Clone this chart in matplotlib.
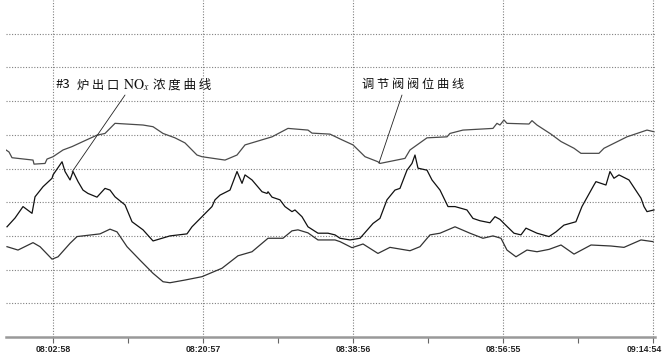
import matplotlib
matplotlib.use('Agg')
import matplotlib.pyplot as plt
import matplotlib.transforms as mtransforms
from matplotlib.ticker import FixedLocator

# time axis: minutes after 07:55:00, values on a 0-10 scale
valve_t = [2.33, 2.69, 3.05, 5.57, 5.69, 7.01, 7.25, 7.97, 9.17, 10.25, 11.56, 13.24,
           14.20, 15.40, 18.76, 19.96, 21.16, 22.59, 23.79, 25.23, 25.83, 28.59, 30.03,
           30.99, 34.23, 36.14, 38.54, 39.02, 41.18, 42.62, 43.94, 45.38, 46.93, 47.17,
           50.17, 50.77, 52.81, 55.21, 55.56, 57.12, 60.72, 61.20, 61.56, 62.04, 62.40,
           65.04, 65.40, 66.00, 67.68, 68.88, 70.44, 71.27, 73.43, 74.03, 76.79, 79.19,
           80.03]
valve_v = [5.55, 5.49, 5.32, 5.25, 5.13, 5.15, 5.28, 5.35, 5.55, 5.65, 5.80, 5.99,
           6.04, 6.34, 6.29, 6.24, 6.04, 5.91, 5.76, 5.40, 5.35, 5.25, 5.40,
           5.70, 5.94, 6.19, 6.14, 6.05, 6.02, 5.85, 5.70, 5.35, 5.20, 5.15,
           5.30, 5.55, 5.91, 5.94, 6.04, 6.14, 6.19, 6.34, 6.29, 6.44, 6.34,
           6.32, 6.42, 6.29, 6.02, 5.80, 5.60, 5.45, 5.45, 5.60, 5.94, 6.14,
           6.09]

nox_t = [2.45, 3.41, 4.37, 5.45, 5.81, 6.77, 7.85, 7.97, 9.05, 9.41, 10.01, 10.37,
         10.97, 11.56, 12.16, 13.24, 14.20, 14.80, 15.40, 16.60, 17.44, 18.76, 19.96,
         21.99, 24.03, 24.63, 25.83, 27.03, 27.39, 27.99, 29.19, 30.03, 30.63, 30.99,
         31.83, 33.03, 33.63, 33.75, 34.23, 35.18, 35.78, 36.62, 36.98, 37.82, 38.54,
         39.74, 40.94, 41.78, 42.38, 43.58, 44.78, 46.34, 47.17, 48.01, 48.97, 49.57,
         50.41, 51.01, 51.37, 51.73, 52.81, 53.41, 54.37, 55.33, 56.17, 57.60, 58.32,
         59.16, 60.36, 60.96, 61.56, 62.04, 63.24, 64.08, 64.68, 66.00, 67.44, 68.28,
         69.23, 70.67, 71.39, 72.83, 73.07, 74.27, 74.75, 75.23, 75.83, 77.03, 78.47,
         78.83, 79.19, 80.03]
nox_v = [3.27, 3.53, 3.87, 3.67, 4.16, 4.46, 4.71, 4.81, 5.20, 4.91, 4.66, 4.91,
         4.61, 4.36, 4.26, 4.15, 4.41, 4.36, 4.16, 3.92, 3.42, 3.18, 2.85,
         3.00, 3.06, 3.27, 3.57, 3.87, 4.07, 4.21, 4.36, 4.91, 4.56, 4.81,
         4.66, 4.31, 4.26, 4.31, 4.15, 4.07, 3.87, 3.72, 3.77, 3.57, 3.27,
         3.08, 3.08, 3.03, 2.93, 2.88, 2.93, 3.37, 3.52, 4.07, 4.36, 4.41,
         4.95, 5.15, 5.40, 5.01, 4.95, 4.66, 4.36, 3.87, 3.87, 3.77, 3.52,
         3.45, 3.39, 3.57, 3.49, 3.37, 3.08, 3.03, 3.23, 3.08, 2.98, 3.12,
         3.32, 3.42, 3.87, 4.51, 4.61, 4.51, 4.91, 4.71, 4.81, 4.66, 4.12,
         3.87, 3.72, 3.77]

low_t = [2.45, 3.77, 5.57, 6.41, 7.85, 8.57, 10.01, 10.85, 13.60, 14.80, 15.64, 16.84,
         18.40, 19.96, 21.16, 21.99, 23.79, 25.83, 28.23, 30.15, 31.83, 33.75, 35.54,
         36.62, 37.34, 38.54, 39.74, 41.78, 42.38, 43.82, 45.14, 46.93, 48.37, 50.77,
         51.97, 53.17, 54.37, 56.17, 57.96, 59.52, 60.72, 61.68, 62.40, 63.48, 64.80,
         66.00, 67.44, 68.88, 70.44, 72.48, 74.87, 76.43, 78.47, 79.91]
low_v = [2.68, 2.58, 2.80, 2.68, 2.31, 2.38, 2.78, 2.98, 3.06, 3.20, 3.12, 2.68,
         2.28, 1.89, 1.64, 1.61, 1.69, 1.79, 2.04, 2.41, 2.53, 2.93, 2.93,
         3.15, 3.18, 3.09, 2.88, 2.88, 2.83, 2.65, 2.76, 2.48, 2.66, 2.56,
         2.68, 3.03, 3.08, 3.27, 3.08, 2.93, 3.00, 2.93, 2.58, 2.38, 2.58,
         2.53, 2.60, 2.73, 2.46, 2.73, 2.70, 2.66, 2.88, 2.83]

tick_labels = ['08:02:58', '08:20:57', '08:38:56', '08:56:55', '09:14:54']


def to_min(s):
    h, m, sec = [int(p) for p in s.split(':')]
    return (h * 60 + m) - (7 * 60 + 55) + sec / 60.0


plt.rcParams['font.family'] = ['Noto Sans CJK SC', 'DejaVu Sans']
plt.rcParams['mathtext.fontset'] = 'stix'

fig = plt.figure(figsize=(6.64, 3.58), dpi=100)
ax = fig.add_axes([6 / 664, 21 / 358, 649 / 664, 337 / 358])

ax.plot(valve_t, valve_v, color='#4a4a4a', lw=0.9)
ax.plot(nox_t, nox_v, color='#111111', lw=0.9)
ax.plot(low_t, low_v, color='#333333', lw=0.9)

ticks = [to_min(s) for s in tick_labels]
ax.set_xlim(2.33, 80.15)
ax.set_ylim(0, 10)
ax.set_xticks(ticks)
ax.set_xticklabels(tick_labels, family='Liberation Sans', fontsize=6.3,
                   fontweight='bold', color='#222222')
mids = [(a + b) / 2 for a, b in zip(ticks[:-1], ticks[1:])]
ax.xaxis.set_minor_locator(FixedLocator(mids))
ax.tick_params(axis='x', which='both', direction='out', length=4, width=0.8,
               color='#666666', pad=2)
ax.set_yticks(range(1, 10))
ax.tick_params(axis='y', left=False, labelleft=False)

# last label sits against the right edge of the figure
last = ax.get_xticklabels()[-1]
last.set_ha('right')
last.set_transform(last.get_transform() +
                   mtransforms.ScaledTranslation(0.09, 0, fig.dpi_scale_trans))

ax.grid(True, which='major', color='#808080', lw=0.8, ls=(0, (1, 1.5)))

for side in ['top', 'left', 'right']:
    ax.spines[side].set_visible(False)
ax.spines['bottom'].set_color('#999999')
ax.spines['bottom'].set_linewidth(1.8)

# NOx label, pieces laid out side by side
ax.text(8.21, 7.48, '#3', fontsize=9.5, color='#111111', va='center', ha='left')
ax.text(10.85, 7.48, '炉 出 口', fontsize=8.8, color='#111111', va='center', ha='left')
ax.text(16.36, 7.34, '$\\mathrm{NO}_x$', fontsize=10, color='#111111',
        va='baseline', ha='left')
ax.text(20.0, 7.48, '浓 度 曲 线', fontsize=9, color='#111111', va='center', ha='left')
ax.annotate('', xy=(10.25, 4.90), xytext=(16.6, 7.18),
            arrowprops=dict(arrowstyle='-', color='#222222', lw=0.6,
                            shrinkA=0, shrinkB=0))

ax.text(45.0, 7.48, '调 节 阀 阀 位 曲 线', fontsize=8.8,
        color='#111111', va='center', ha='left')
ax.annotate('', xy=(47.05, 5.16), xytext=(49.81, 7.18),
            arrowprops=dict(arrowstyle='-', color='#222222', lw=0.6,
                            shrinkA=0, shrinkB=0))

fig.savefig('out.png', dpi=100)
